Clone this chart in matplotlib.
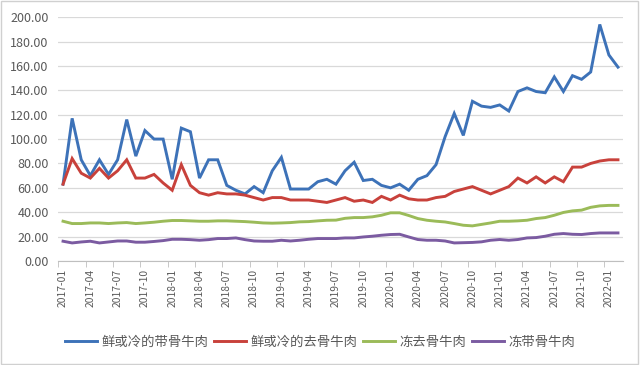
import numpy as np
import pandas as pd
import matplotlib
matplotlib.use('Agg')
import matplotlib.pyplot as plt
from matplotlib.patches import Rectangle

plt.rcParams['font.family'] = ['Noto Sans CJK SC', 'DejaVu Sans']

# monthly categories 2017-01 .. 2022-02
months = [str(p) for p in pd.period_range('2017-01', '2022-02', freq='M')]

series_names = ['鲜或冷的带骨牛肉', '鲜或冷的去骨牛肉', '冻去骨牛肉', '冻带骨牛肉']

fresh_bone_in = [63, 117, 83, 70, 83, 71, 83, 116, 86, 107, 100, 100,
                 67, 109, 106, 68, 83, 83, 62, 58, 55, 61, 56, 74,
                 85, 59, 59, 59, 65, 67, 63, 74, 81, 66, 67, 62,
                 60, 63, 58, 67, 70, 79, 102, 121, 103, 131, 127, 126,
                 128, 123, 139, 142, 139, 138, 151, 139, 152, 149, 155, 194,
                 169, 159]
fresh_boneless = [63, 84, 72, 68, 76, 68, 74, 83, 68, 68, 71, 64,
                  58, 79, 62, 56, 54, 56, 55, 55, 54, 52, 50, 52,
                  52, 50, 50, 50, 49, 48, 50, 52, 49, 50, 48, 53,
                  50, 54, 51, 50, 50, 52, 53, 57, 59, 61, 58, 55,
                  58, 61, 68, 64, 69, 64, 69, 65, 77, 77, 80, 82,
                  83, 83]
frozen_boneless = [32.6, 30.7, 30.7, 31.2, 31.2, 30.7, 31.2, 31.5, 30.7, 31.2, 31.8, 32.6,
                   33.2, 33.2, 32.9, 32.6, 32.6, 32.9, 32.9, 32.6, 32.3, 31.8, 31.2, 31.0,
                   31.2, 31.5, 32.1, 32.3, 32.9, 33.4, 33.5, 35.0, 35.6, 35.6, 36.2, 37.5,
                   39.5, 39.5, 37.3, 34.8, 33.4, 32.6, 32.0, 30.7, 29.3, 28.8, 30.0, 31.2,
                   32.6, 32.6, 32.9, 33.4, 34.8, 35.6, 37.5, 39.8, 41.1, 41.7, 44.0, 45.2,
                   45.6, 45.6]
frozen_bone_in = [16.2, 14.8, 15.6, 16.2, 14.8, 15.6, 16.4, 16.4, 15.4, 15.4, 16.0, 16.7,
                  17.8, 17.8, 17.5, 17.0, 17.5, 18.4, 18.4, 18.9, 17.5, 16.4, 16.2, 16.2,
                  17.0, 16.4, 17.0, 17.8, 18.4, 18.4, 18.4, 18.9, 18.9, 19.7, 20.3, 21.1,
                  21.7, 21.9, 19.7, 17.6, 17.0, 17.0, 16.4, 14.8, 15.0, 15.2, 15.7, 17.0,
                  17.6, 17.0, 17.6, 18.9, 19.2, 20.3, 21.9, 22.5, 21.9, 21.7, 22.5, 23.0,
                  23.0, 23.0]

colors = ['#3d72b8', '#c8413b', '#9bbb59', '#7b5ba1']
values = [fresh_bone_in, fresh_boneless, frozen_boneless, frozen_bone_in]

fig = plt.figure(figsize=(6.4, 3.65), dpi=100)
ax = fig.add_axes([0.0914, 0.285, 0.8813, 0.668])

x = np.arange(len(months))
for name, vals, c in zip(series_names, values, colors):
    ax.plot(x, vals, color=c, lw=2.1, label=name, solid_joinstyle='miter')

ax.set_xlim(-0.5, len(months) - 0.5)
ax.set_ylim(0, 200)
ax.set_yticks(np.arange(0, 201, 20))
ax.set_yticklabels([f'{v:.2f}' for v in np.arange(0, 201, 20)])
ax.yaxis.grid(True, color='#d9d9d9', lw=0.9)
ax.set_axisbelow(True)

ax.set_xticks(x[::3])
ax.set_xticklabels(months[::3], rotation=90)
ax.set_xticks(np.arange(-0.5, len(months), 3), minor=True)
ax.tick_params(axis='x', which='major', length=0, pad=6, labelsize=7.4, colors='#595959')
ax.tick_params(axis='x', which='minor', length=4, color='#bfbfbf')
ax.tick_params(axis='y', length=0, pad=7, labelsize=9, colors='#595959')

for s in ['top', 'right', 'left']:
    ax.spines[s].set_visible(False)
ax.spines['bottom'].set_color('#bfbfbf')

fig.legend(loc='center', bbox_to_anchor=(0.5, 0.063), ncol=4, frameon=False,
           fontsize=9.6, handlelength=2.4, handletextpad=0.3, columnspacing=0.45,
           labelcolor='#595959')

fig.patches.append(Rectangle((0.002, 0.003), 0.995, 0.994, transform=fig.transFigure,
                             fill=False, edgecolor='#d0d0d0', lw=1))

fig.savefig('out.png', dpi=100)
